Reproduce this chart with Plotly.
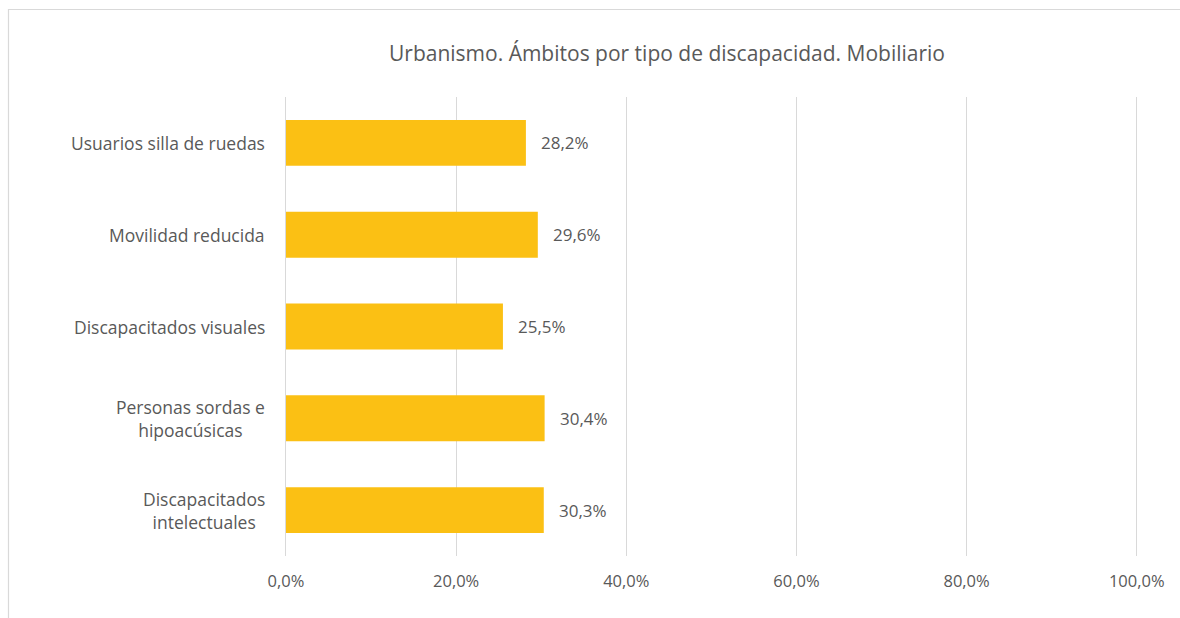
import plotly.graph_objects as go

categories = [
    "Usuarios silla de ruedas",
    "Movilidad reducida",
    "Discapacitados visuales",
    "Personas sordas e<br>hipoacúsicas",
    "Discapacitados<br>intelectuales",
]
values = [28.2, 29.6, 25.5, 30.4, 30.3]
x_ticks = [0, 20, 40, 60, 80, 100]
x_tick_labels = ["0,0%", "20,0%", "40,0%", "60,0%", "80,0%", "100,0%"]
title_text = "Urbanismo. Ámbitos por tipo de discapacidad. Mobiliario"

FONT = "Open Sans"
TXT = "#595959"
BAR = "#FBC014"
GRID = "#D9D9D9"

fig = go.Figure()
fig.add_trace(go.Bar(
    x=values, y=categories, orientation="h",
    marker=dict(color=BAR, line=dict(width=0)),
    width=0.5, hoverinfo="skip",
))

annotations = []
for c, v in zip(categories, values):
    annotations.append(dict(
        x=v, y=c, xref="x", yref="y", text=f"{v:.1f}".replace(".", ",") + "%",
        showarrow=False, xanchor="left", xshift=13,
        font=dict(family=FONT, size=17, color=TXT),
    ))
    annotations.append(dict(
        x=0, y=c, xref="paper", yref="y", text=c,
        showarrow=False, xanchor="right", xshift=-19, align="center",
        font=dict(family=FONT, size=17.5, color=TXT),
    ))
annotations.append(dict(
    x=(667 - 286) / 852, y=1 + (97 - 53) / 459, xref="paper", yref="paper",
    text=title_text, showarrow=False, xanchor="center", yanchor="middle",
    font=dict(family=FONT, size=21, color=TXT),
))

fig.update_layout(
    width=1180, height=618,
    margin=dict(l=286, r=42, t=97, b=62),
    paper_bgcolor="white", plot_bgcolor="white",
    showlegend=False,
    annotations=annotations,
    shapes=[dict(
        type="rect", xref="paper", yref="paper",
        x0=(8.5 - 286) / 852, x1=(1200 - 286) / 852,
        y0=(556 - 640) / 459, y1=1 + (97 - 9.5) / 459,
        line=dict(color=GRID, width=1.2), fillcolor="rgba(0,0,0,0)", layer="below",
    )],
    xaxis=dict(
        range=[0, 100.15], tickmode="array", tickvals=x_ticks, ticktext=x_tick_labels,
        showgrid=True, gridcolor=GRID, gridwidth=1.3, zeroline=False,
        showline=False, ticks="", ticklabelstandoff=13,
        tickfont=dict(family=FONT, size=16.5, color=TXT), fixedrange=True,
    ),
    yaxis=dict(
        categoryorder="array", categoryarray=categories[::-1],
        showticklabels=False, showgrid=False, zeroline=False,
        showline=True, linecolor=GRID, linewidth=1.3, ticks="", fixedrange=True,
    ),
    bargap=0.5,
)

fig.write_html(
    "out.html",
    config={"displayModeBar": False},
    post_script="document.body.style.margin='0';document.body.style.overflow='hidden';",
)
